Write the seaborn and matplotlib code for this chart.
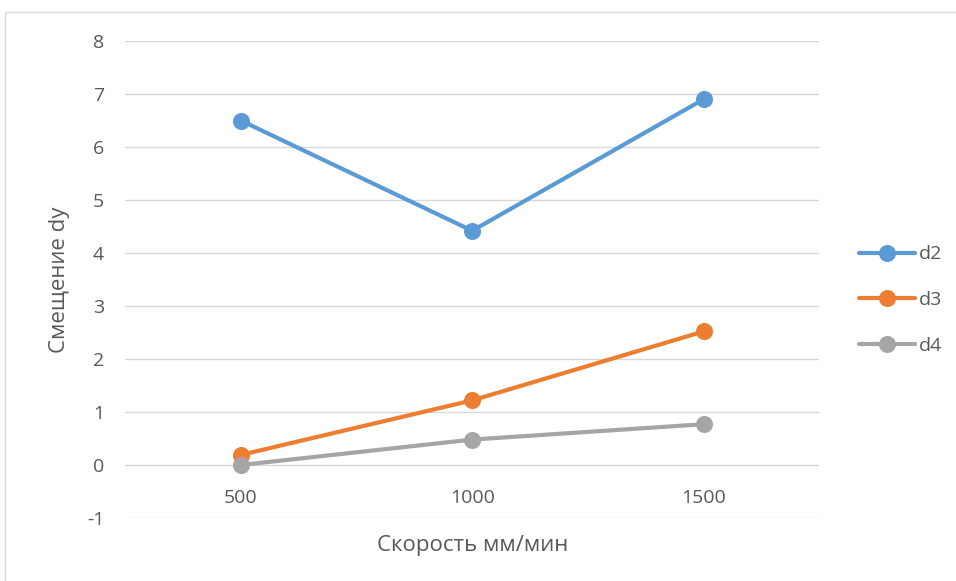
import pandas as pd
import seaborn as sns
import matplotlib.pyplot as plt
from matplotlib.patches import Rectangle

# данные
speeds = ['500', '1000', '1500']
d2 = [6.5, 4.42, 6.9]
d3 = [0.19, 1.22, 2.52]
d4 = [0.0, 0.48, 0.77]
series_names = ['d2', 'd3', 'd4']
colors = ['#5b9bd5', '#ed7d31', '#a5a5a5']

df = pd.DataFrame({
    'speed': speeds * 3,
    'dy': d2 + d3 + d4,
    'series': [s for s in series_names for _ in speeds],
})

sns.set_style('white')
plt.rcParams['font.family'] = ['Open Sans', 'DejaVu Sans']
plt.rcParams['axes.unicode_minus'] = False
text_color = '#595959'
grid_color = '#d9d9d9'

fig = plt.figure(figsize=(9.56, 5.81), dpi=100)
ax = fig.add_axes([0.1308, 0.1084, 0.7262, 0.8210])

sns.pointplot(data=df, x='speed', y='dy', hue='series', order=speeds,
              hue_order=series_names, palette=colors, markers='o',
              markersize=10, linewidth=3.0, ax=ax)

ax.set_ylim(-1, 8)
ax.set_xlim(-0.5, 2.5)
ax.set_yticks(range(-1, 9))
ax.yaxis.grid(True, color=grid_color, linewidth=1.0)
ax.set_axisbelow(True)
for sp in ax.spines.values():
    sp.set_visible(False)
# подписи категорий под линией y = 0, как в Excel
ax.spines['bottom'].set_position(('data', 0))
ax.tick_params(axis='x', length=0, colors=text_color, labelsize=14, pad=17)
ax.tick_params(axis='y', length=0, colors=text_color, labelsize=14, pad=15)

ax.set_xlabel('Скорость мм/мин', fontsize=16, color=text_color, va='center')
ax.xaxis.set_label_coords(0.5, -0.0566)
ax.set_ylabel('Смещение dy', fontsize=16, color=text_color, va='center')
ax.yaxis.set_label_coords(-0.0937, 0.5)

leg = ax.legend(loc='center left', bbox_to_anchor=(859 / 956, 1 - 300 / 581),
                bbox_transform=fig.transFigure, frameon=False,
                fontsize=14, labelcolor=text_color, handlelength=2.9,
                labelspacing=1.42, handletextpad=0.2, borderpad=0.0,
                borderaxespad=0.0)

# рамка области диаграммы (обрезана справа и снизу)
fig.patches.append(Rectangle((5 / 956, -0.1), 1.2, 1 - 12 / 581 + 0.1,
                             transform=fig.transFigure, fill=False,
                             edgecolor=grid_color, linewidth=1.0))

fig.savefig('out.png', dpi=100)
